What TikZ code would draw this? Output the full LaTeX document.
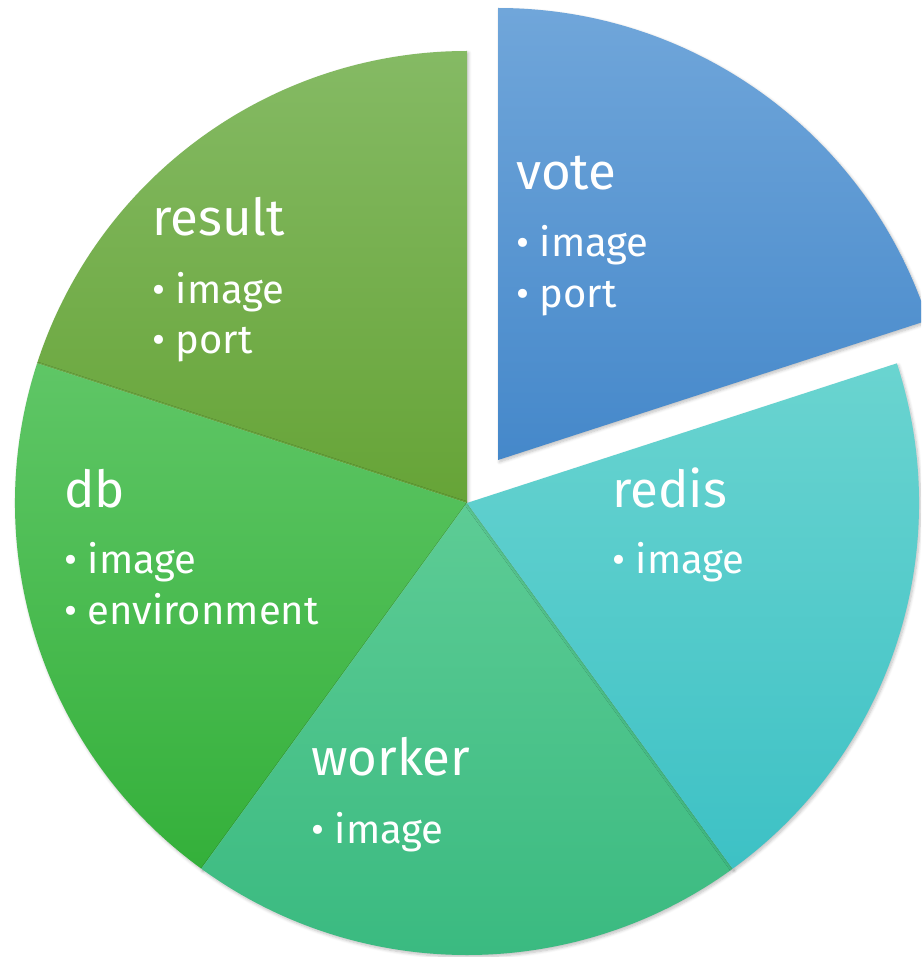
\documentclass[tikz,border=0pt]{standalone}
\usepackage{fontspec}
\setmainfont{Fira Sans}
\usetikzlibrary{shadows.blur}
\definecolor{voteTop}{HTML}{70A6DA}
\definecolor{voteBot}{HTML}{4588CA}
\definecolor{redisTop}{HTML}{6AD4D0}
\definecolor{redisBot}{HTML}{3DC1C5}
\definecolor{workerTop}{HTML}{5DCC95}
\definecolor{workerBot}{HTML}{38B97F}
\definecolor{dbTop}{HTML}{5FC666}
\definecolor{dbBot}{HTML}{34B03A}
\definecolor{resultTop}{HTML}{85BA64}
\definecolor{resultBot}{HTML}{66A437}
\tikzset{
  wedge/.style={blur shadow={shadow xshift=1.5pt, shadow yshift=-2pt, shadow blur steps=6, shadow blur radius=3pt, shadow opacity=25}},
  title/.style={anchor=base west, inner sep=0pt, text=white, font=\fontsize{51}{55}\selectfont},
  item/.style={anchor=base west, inner sep=0pt, text=white, font=\fontsize{40}{44}\selectfont},
}
\begin{document}
\begin{tikzpicture}[x=1pt,y=1pt]
\clip (0,0) rectangle (921,-957);
\coordinate (C) at (467,-503);
\coordinate (V) at (498,-460);
% pie wedges, each 72 degrees; the vote wedge is pulled out along its bisector
\path[wedge, top color=resultTop, bottom color=resultBot] (C) -- ++(162:452pt) arc[start angle=162, end angle=90, radius=452pt] -- cycle;
\path[wedge, top color=dbTop, bottom color=dbBot] (C) -- ++(234:452pt) arc[start angle=234, end angle=162, radius=452pt] -- cycle;
\path[wedge, top color=workerTop, bottom color=workerBot] (C) -- ++(306:452pt) arc[start angle=306, end angle=234, radius=452pt] -- cycle;
\path[wedge, top color=redisTop, bottom color=redisBot] (C) -- ++(18:452pt) arc[start angle=18, end angle=-54, radius=452pt] -- cycle;
\path[wedge, top color=voteTop, bottom color=voteBot] (V) -- ++(90:452pt) arc[start angle=90, end angle=18, radius=452pt] -- cycle;
% labels
\node[title] (voteT) at (516,-190) {vote};
\node[item] (voteA) at (516,-257) {• image};
\node[item] (voteB) at (516,-307) {• port};
\node[title] (resultT) at (152,-236) {result};
\node[item] (resultA) at (152,-303) {• image};
\node[item] (resultB) at (152,-353) {• port};
\node[title] (dbT) at (64,-507) {db};
\node[item] (dbA) at (64,-573) {• image};
\node[item] (dbB) at (64,-624) {• environment};
\node[title] (redisT) at (612,-507) {redis};
\node[item] (redisA) at (612,-573) {• image};
\node[title] (workerT) at (311,-775) {worker};
\node[item] (workerA) at (311,-843) {• image};
\end{tikzpicture}
\end{document}
